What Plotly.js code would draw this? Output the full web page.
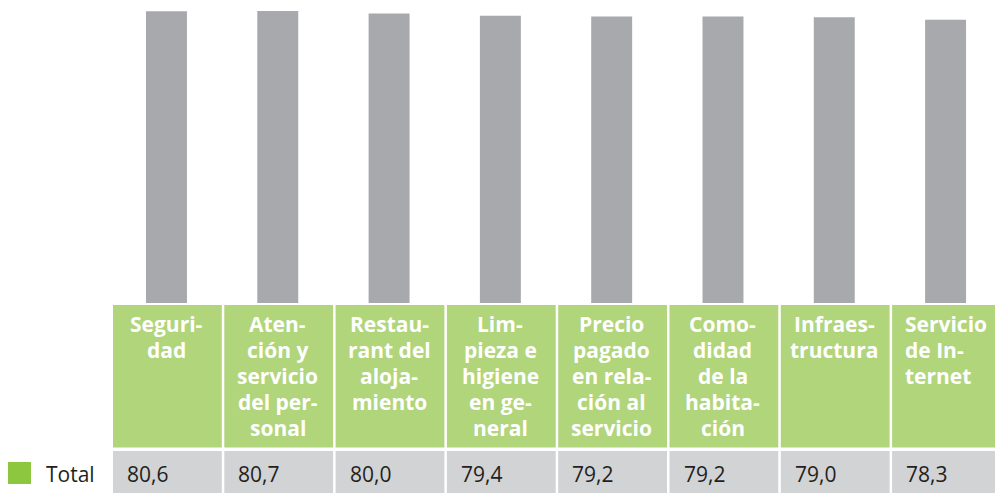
<!DOCTYPE html>
<html>
<head>
<meta charset="utf-8">
<script src="https://cdn.plot.ly/plotly-3.0.1.min.js"></script>
<style>html,body{margin:0;padding:0;background:#fff;}#chart{width:995px;height:493px;}</style>
</head>
<body>
<div id="chart"></div>
<script>
// ---- data ----
var categories = ["Seguridad", "Atención y servicio del personal", "Restaurant del alojamiento", "Limpieza e higiene en general", "Precio pagado en relación al servicio", "Comodidad de la habitación", "Infraestructura", "Servicio de Internet"];
var headerLabels = ["Seguri-<br>dad", "Aten-<br>ción y<br>servicio<br>del per-<br>sonal", "Restau-<br>rant del<br>aloja-<br>miento", "Lim-<br>pieza e<br>higiene<br>en ge-<br>neral", "Precio<br>pagado<br>en rela-<br>ción al<br>servicio", "Como-<br>didad<br>de la<br>habita-<br>ción", "Infraes-<br>tructura", "Servicio<br>de In-<br>ternet"];
var totalValues = [80.6, 80.7, 80.0, 79.4, 79.2, 79.2, 79.0, 78.3];
var seriesName = "Total";

// ---- layout helpers ----
var W = 995, H = 493;
var plotBottom = 303;           // px from top where bars end
var colW = 111.3;               // px per category
var leftPx = 113;
function py(p) { return (plotBottom - p) / plotBottom; } // pixel-y -> paper-y
var xs = categories.map(function (_, i) { return i; });
var xMax = -0.5 + (W - leftPx) / colW;
var lineStep = 26.2, firstLine = 323.5;

var shapes = [], annotations = [];
var gapU = 2.5 / colW;
xs.forEach(function (x, i) {
  shapes.push({type: 'rect', xref: 'x', yref: 'paper', x0: x - 0.5, x1: x + 0.5 - gapU,
    y0: py(447.5), y1: py(305), fillcolor: '#b1d57b', line: {width: 0}, layer: 'below'});
  shapes.push({type: 'rect', xref: 'x', yref: 'paper', x0: x - 0.5, x1: x + 0.5 - gapU,
    y0: py(500), y1: py(451), fillcolor: '#d1d3d4', line: {width: 0}, layer: 'below'});
  // the last (clipped) column is left-aligned, others centred
  var clipped = (i === xs.length - 1);
  headerLabels[i].split('<br>').forEach(function (line, k) {
    annotations.push({xref: 'x', yref: 'paper',
      x: clipped ? x - 0.5 + 11 / colW : x - 0.02,
      y: py(firstLine + k * lineStep),
      xanchor: clipped ? 'left' : 'center', yanchor: 'middle', showarrow: false,
      text: '<b>' + line + '</b>',
      font: {family: 'Open Sans, sans-serif', size: 21, color: '#ffffff'}});
  });
  annotations.push({xref: 'x', yref: 'paper', x: x - 0.5 + 12 / colW, y: py(474),
    xanchor: 'left', yanchor: 'middle', showarrow: false,
    text: totalValues[i].toFixed(1).replace('.', ','),
    font: {family: 'Open Sans, sans-serif', size: 21, color: '#231f20', weight: 400}});
});
// legend
shapes.push({type: 'rect', xref: 'paper', yref: 'paper', x0: (8 - leftPx) / (W - leftPx), x1: (31 - leftPx) / (W - leftPx),
  y0: py(484), y1: py(462), fillcolor: '#8dc63f', line: {width: 0}});
annotations.push({xref: 'paper', yref: 'paper', x: (44 - leftPx) / (W - leftPx), y: py(474),
  xanchor: 'left', yanchor: 'middle', showarrow: false, text: seriesName,
  font: {family: 'Open Sans, sans-serif', size: 21, color: '#231f20', weight: 400}});

var trace = {
  type: 'bar', x: xs, y: totalValues, name: seriesName,
  width: 0.368, offset: -0.2035,
  marker: {color: '#a7a9ac', line: {width: 0}},
  hoverinfo: 'skip', showlegend: false
};

var layout = {
  width: W, height: H,
  margin: {l: leftPx, r: 0, t: 0, b: H - plotBottom, pad: 0},
  paper_bgcolor: '#ffffff', plot_bgcolor: 'rgba(0,0,0,0)',
  xaxis: {range: [-0.5, xMax], visible: false, fixedrange: true},
  yaxis: {range: [0, plotBottom * 80.7 / 292], visible: false, fixedrange: true},
  shapes: shapes, annotations: annotations, showlegend: false
};

Plotly.newPlot('chart', [trace], layout, {displayModeBar: false, staticPlot: true});
</script>
</body>
</html>
